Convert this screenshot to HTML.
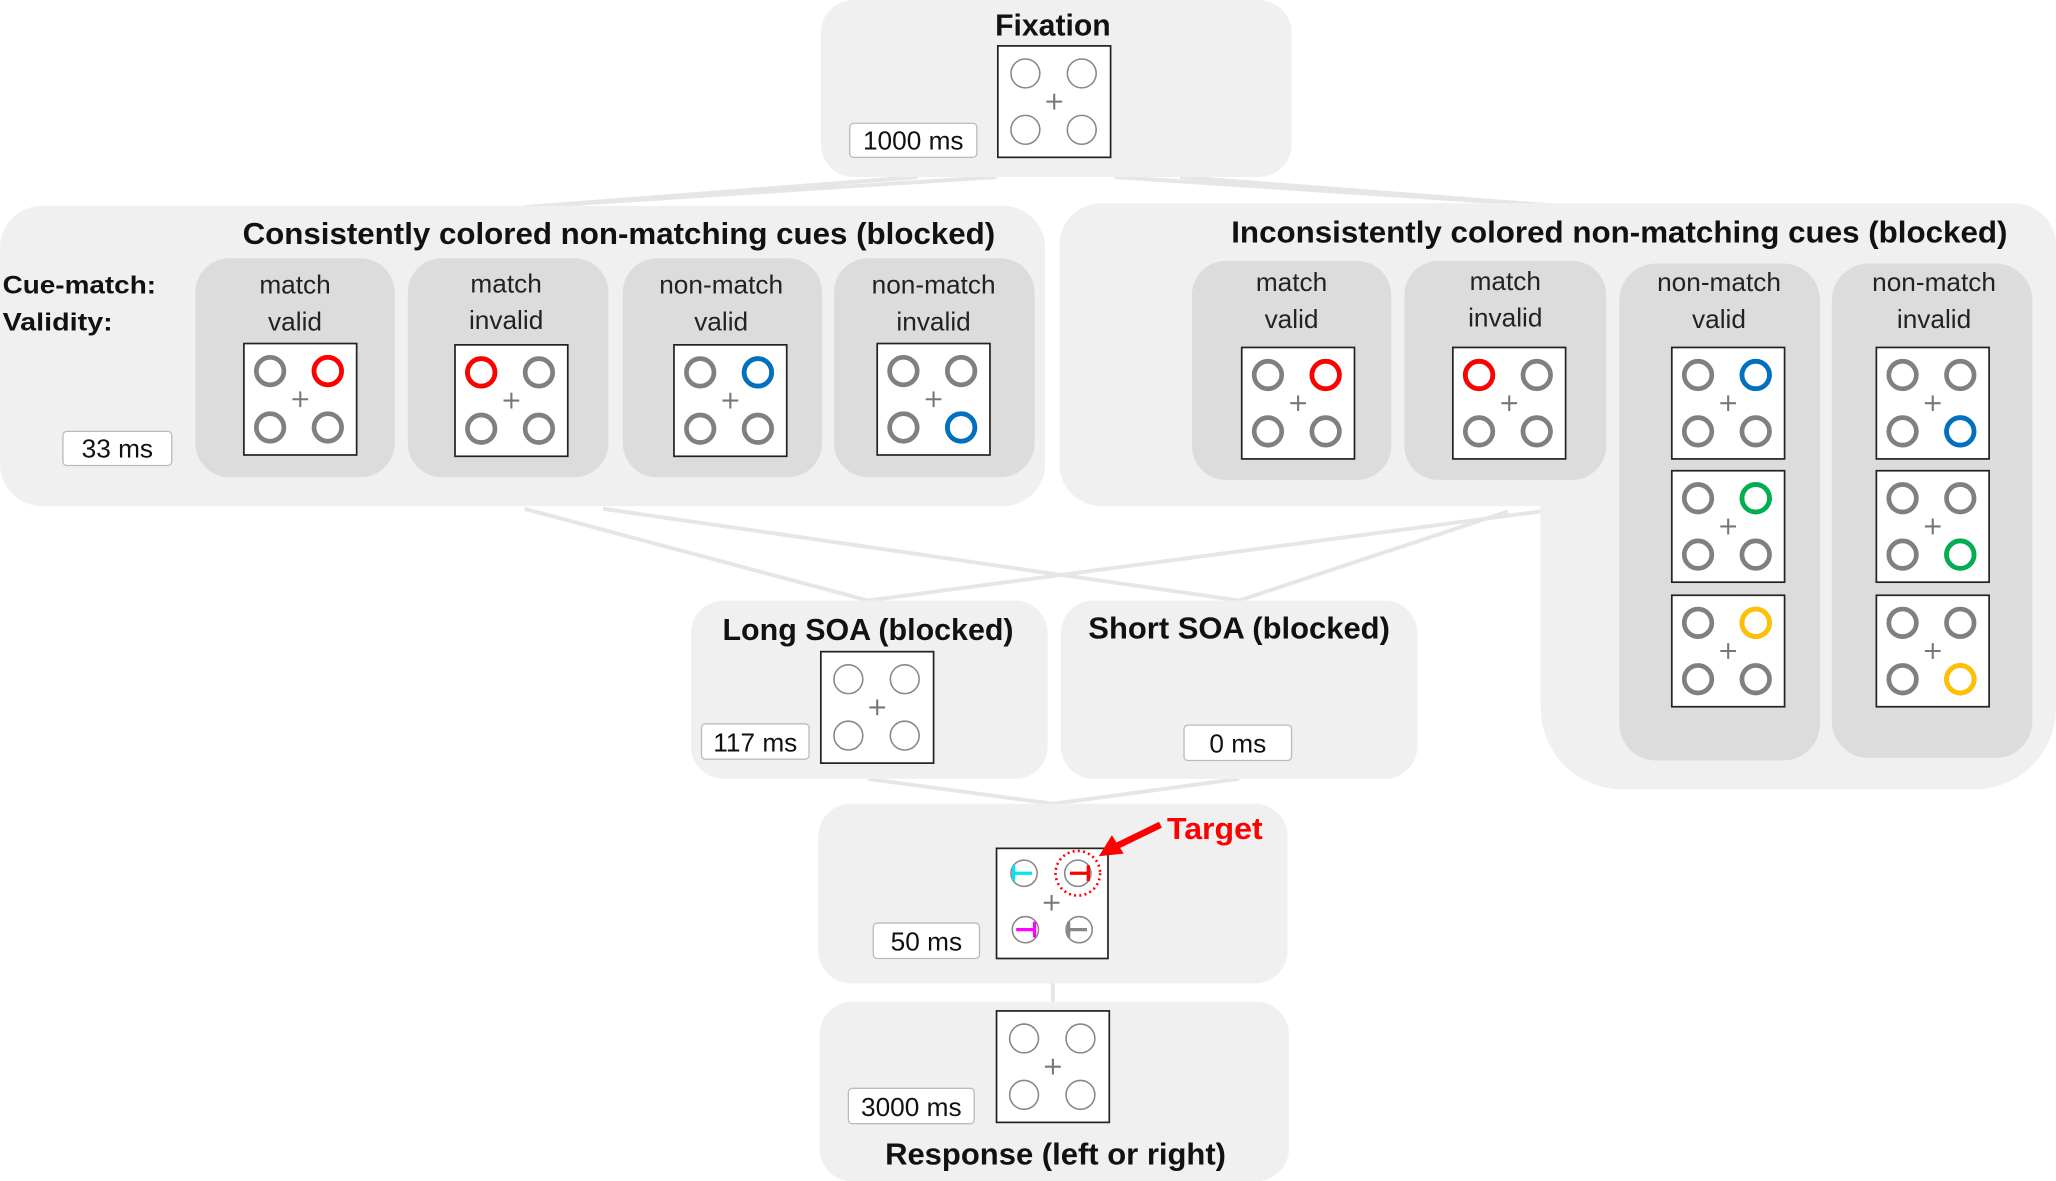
<!DOCTYPE html>
<html><head><meta charset="utf-8"><style>
html,body{margin:0;padding:0;background:#fff}
svg{display:block}
text{font-family:"Liberation Sans",sans-serif}
.t{font-weight:bold;font-size:23px;fill:#111}
.l{font-size:20px;fill:#222}
.ms{font-size:20px;fill:#111}
</style></head><body>
<svg width="2056" height="1181" viewBox="0 0 1568 900.7" preserveAspectRatio="none" xmlns="http://www.w3.org/2000/svg">
<defs>
<g id="cue">
<rect x="0" y="0" width="86" height="85" fill="#fff" stroke="#222" stroke-width="1.3"/>
<path d="M37 42.5h12M43 36.5v12" stroke="#777" stroke-width="1.6"/>
<g fill="none" stroke="#808080" stroke-width="3.6">
<circle cx="20" cy="21" r="10.5"/><circle cx="64" cy="21" r="10.5"/>
<circle cx="20" cy="64" r="10.5"/><circle cx="64" cy="64" r="10.5"/></g>
</g>
<g id="thin">
<rect x="0" y="0" width="86" height="85" fill="#fff" stroke="#222" stroke-width="1.3"/>
<path d="M37 42.5h12M43 36.5v12" stroke="#777" stroke-width="1.6"/>
<g fill="none" stroke="#888" stroke-width="1.2">
<circle cx="21" cy="21" r="11"/><circle cx="64" cy="21" r="11"/>
<circle cx="21" cy="64" r="11"/><circle cx="64" cy="64" r="11"/></g>
</g>
</defs>

<!-- connectors -->
<g stroke="#e6e6e6" stroke-width="3" fill="none">
<path d="M700 135 L400 158 M900 135 L1200 158 M760 135 L400 158 M850 135 L1200 158"/>
<path d="M400 388 L662 458 M460 388 L945 458 M1175 390 L662 458 M1150 390 L945 458"/>
<path d="M662 594 L803 613 M945 594 L803 613 M803 750 V764"/>
</g>

<!-- Fixation -->
<rect x="626" y="0" width="359" height="135" rx="25" fill="#f0f0f0"/>
<text class="t" x="803" y="27" text-anchor="middle">Fixation</text>
<use href="#thin" x="761" y="35"/>
<rect x="648" y="94" width="97" height="26" rx="3" fill="#fff" stroke="#bbb"/>
<text class="ms" x="696.5" y="114" text-anchor="middle">1000 ms</text>

<!-- Left panel -->
<rect x="0" y="157" width="797" height="229" rx="32" fill="#f0f0f0"/>
<text class="t" x="472" y="186" text-anchor="middle" textLength="574" lengthAdjust="spacingAndGlyphs">Consistently colored non-matching cues (blocked)</text>
<text x="2" y="224" style="font-weight:bold;font-size:19px" fill="#111" textLength="117" lengthAdjust="spacingAndGlyphs">Cue-match:</text>
<text x="2" y="252" style="font-weight:bold;font-size:19px" fill="#111" textLength="84" lengthAdjust="spacingAndGlyphs">Validity:</text>
<g fill="#dcdcdc">
<rect x="149" y="197" width="152" height="167" rx="26"/>
<rect x="311" y="197" width="153" height="167" rx="26"/>
<rect x="475" y="197" width="152" height="167" rx="26"/>
<rect x="636" y="197" width="153" height="167" rx="26"/>
</g>
<g class="l" text-anchor="middle">
<text x="225" y="224">match</text><text x="225" y="252">valid</text>
<text x="386" y="223">match</text><text x="386" y="251">invalid</text>
<text x="550" y="224">non-match</text><text x="550" y="252">valid</text>
<text x="712" y="224">non-match</text><text x="712" y="252">invalid</text>
</g>
<use href="#cue" x="186" y="262"/><circle cx="250" cy="283" r="10.5" fill="none" stroke="#f00" stroke-width="3.6"/>
<use href="#cue" x="347" y="263"/><circle cx="367" cy="284" r="10.5" fill="none" stroke="#f00" stroke-width="3.6"/>
<use href="#cue" x="514" y="263"/><circle cx="578" cy="284" r="10.5" fill="none" stroke="#0070c0" stroke-width="3.6"/>
<use href="#cue" x="669" y="262"/><circle cx="733" cy="326" r="10.5" fill="none" stroke="#0070c0" stroke-width="3.6"/>
<rect x="48" y="329" width="83" height="26" rx="3" fill="#fff" stroke="#bbb"/>
<text class="ms" x="89.5" y="349" text-anchor="middle">33 ms</text>

<!-- Right panel -->
<path d="M840 155 H1536 A32 32 0 0 1 1568 187 V540 A62 62 0 0 1 1506 602 H1237 A62 62 0 0 1 1175 540 V386 H840 A32 32 0 0 1 808 354 V187 A32 32 0 0 1 840 155 Z" fill="#f0f0f0"/>
<text class="t" x="1235" y="185" text-anchor="middle" textLength="592" lengthAdjust="spacingAndGlyphs">Inconsistently colored non-matching cues (blocked)</text>
<g fill="#dcdcdc">
<rect x="909" y="199" width="152" height="167" rx="26"/>
<rect x="1071" y="199" width="154" height="167" rx="26"/>
<rect x="1235" y="201" width="153" height="379" rx="28"/>
<rect x="1397" y="201" width="153" height="377" rx="28"/>
</g>
<g class="l" text-anchor="middle">
<text x="985" y="222">match</text><text x="985" y="250">valid</text>
<text x="1148" y="221">match</text><text x="1148" y="249">invalid</text>
<text x="1311" y="222">non-match</text><text x="1311" y="250">valid</text>
<text x="1475" y="222">non-match</text><text x="1475" y="250">invalid</text>
</g>
<use href="#cue" x="947" y="265"/><circle cx="1011" cy="286" r="10.5" fill="none" stroke="#f00" stroke-width="3.6"/>
<use href="#cue" x="1108" y="265"/><circle cx="1128" cy="286" r="10.5" fill="none" stroke="#f00" stroke-width="3.6"/>
<use href="#cue" x="1275" y="265"/><circle cx="1339" cy="286" r="10.5" fill="none" stroke="#0070c0" stroke-width="3.6"/>
<use href="#cue" x="1275" y="359"/><circle cx="1339" cy="380" r="10.5" fill="none" stroke="#00b050" stroke-width="3.6"/>
<use href="#cue" x="1275" y="454"/><circle cx="1339" cy="475" r="10.5" fill="none" stroke="#ffc000" stroke-width="3.6"/>
<use href="#cue" x="1431" y="265"/><circle cx="1495" cy="329" r="10.5" fill="none" stroke="#0070c0" stroke-width="3.6"/>
<use href="#cue" x="1431" y="359"/><circle cx="1495" cy="423" r="10.5" fill="none" stroke="#00b050" stroke-width="3.6"/>
<use href="#cue" x="1431" y="454"/><circle cx="1495" cy="518" r="10.5" fill="none" stroke="#ffc000" stroke-width="3.6"/>

<!-- SOA panels -->
<rect x="527" y="458" width="272" height="136" rx="25" fill="#f0f0f0"/>
<text class="t" x="662" y="488" text-anchor="middle" textLength="222" lengthAdjust="spacingAndGlyphs">Long SOA (blocked)</text>
<use href="#thin" x="626" y="497"/>
<rect x="535" y="552" width="82" height="27" rx="3" fill="#fff" stroke="#bbb"/>
<text class="ms" x="576" y="573" text-anchor="middle">117 ms</text>
<rect x="809" y="458" width="272" height="136" rx="25" fill="#f0f0f0"/>
<text class="t" x="945" y="487" text-anchor="middle" textLength="230" lengthAdjust="spacingAndGlyphs">Short SOA (blocked)</text>
<rect x="903" y="553" width="82" height="27" rx="3" fill="#fff" stroke="#bbb"/>
<text class="ms" x="944" y="574" text-anchor="middle">0 ms</text>

<!-- Target panel -->
<rect x="624" y="613" width="358" height="137" rx="25" fill="#f0f0f0"/>
<rect x="760" y="647" width="85" height="84" fill="#fff" stroke="#222" stroke-width="1.3"/>
<path d="M796 688.5h12M802 682.5v12" stroke="#777" stroke-width="1.6"/>
<g fill="none" stroke="#888" stroke-width="1.2">
<circle cx="781" cy="666" r="10"/><circle cx="822" cy="666" r="10"/>
<circle cx="782" cy="709" r="10"/><circle cx="823" cy="709" r="10"/></g>
<path d="M773 660v12M773 666h14" stroke="#00e5f0" stroke-width="2.5"/>
<path d="M830 660v12M816 666h14" stroke="#f00" stroke-width="2.5"/>
<path d="M789 703v12M775 709h14" stroke="#f0f" stroke-width="2.5"/>
<path d="M815 703v12M815 709h14" stroke="#888" stroke-width="2.5"/>
<circle cx="822" cy="666" r="17" fill="none" stroke="#f00" stroke-width="2" stroke-dasharray="1.5 2.5"/>
<path d="M885 629 L850 646" stroke="#f00" stroke-width="5"/>
<path d="M838 653 L848 637 L857 651 Z" fill="#f00"/>
<text x="890" y="640" style="font-weight:bold;font-size:23px" fill="#f00" textLength="73" lengthAdjust="spacingAndGlyphs">Target</text>
<rect x="666" y="704" width="81" height="27" rx="3" fill="#fff" stroke="#bbb"/>
<text class="ms" x="706.5" y="725" text-anchor="middle">50 ms</text>

<!-- Response -->
<rect x="625" y="764" width="358" height="137" rx="25" fill="#f0f0f0"/>
<use href="#thin" x="760" y="771"/>
<rect x="647" y="830" width="96" height="27" rx="3" fill="#fff" stroke="#bbb"/>
<text class="ms" x="695" y="851" text-anchor="middle">3000 ms</text>
<text class="t" x="805" y="888" text-anchor="middle" textLength="260" lengthAdjust="spacingAndGlyphs">Response (left or right)</text>
</svg>
</body></html>
